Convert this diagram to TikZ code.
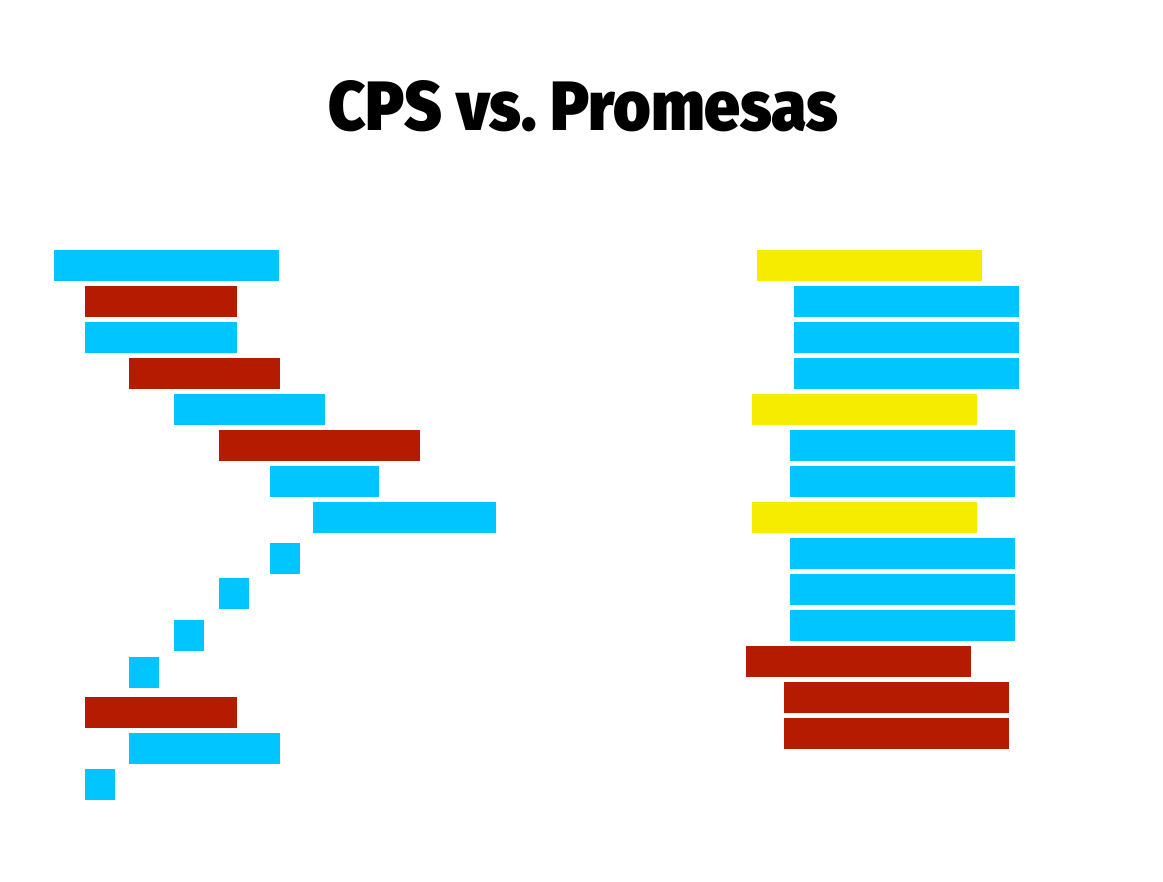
\documentclass[tikz,border=0pt]{standalone}
\usepackage{fontspec}
\usepackage{graphicx}
\newfontfamily\titlefont{Fira Sans Black}
\definecolor{cpsblue}{RGB}{0,197,255}
\definecolor{cpsred}{RGB}{180,27,0}
\definecolor{promyellow}{RGB}{245,236,0}

\begin{document}
\begin{tikzpicture}[x=0.02cm, y=-0.02cm,
    blk/.style={fill=#1}
]
\useasboundingbox (0,0) rectangle (1163,882);
\node[anchor=base west, inner sep=0] (title) at (328,131) {\resizebox{10.2cm}{1cm}{\titlefont CPS vs.\ Promesas}};

% CPS (callbacks)
\foreach \x/\y/\w/\c in {54/250/225/cpsblue, 85/286/152/cpsred, 85/322/152/cpsblue,
    129/358/151/cpsred, 174/394/151/cpsblue, 219/430/201/cpsred, 270/466/109/cpsblue,
    313/502/183/cpsblue, 270/543/30/cpsblue, 219/578/30/cpsblue, 174/620/30/cpsblue,
    129/657/30/cpsblue, 85/697/152/cpsred, 129/733/151/cpsblue, 85/769/30/cpsblue}
  \fill[blk=\c] (\x,\y) rectangle ++(\w,31);

% Promesas
\foreach \x/\y/\w/\c in {757/250/225/promyellow, 794/286/225/cpsblue, 794/322/225/cpsblue,
    794/358/225/cpsblue, 752/394/225/promyellow, 790/430/225/cpsblue, 790/466/225/cpsblue,
    752/502/225/promyellow, 790/538/225/cpsblue, 790/574/225/cpsblue, 790/610/225/cpsblue,
    746/646/225/cpsred, 784/682/225/cpsred, 784/718/225/cpsred}
  \fill[blk=\c] (\x,\y) rectangle ++(\w,31);
\end{tikzpicture}
\end{document}
